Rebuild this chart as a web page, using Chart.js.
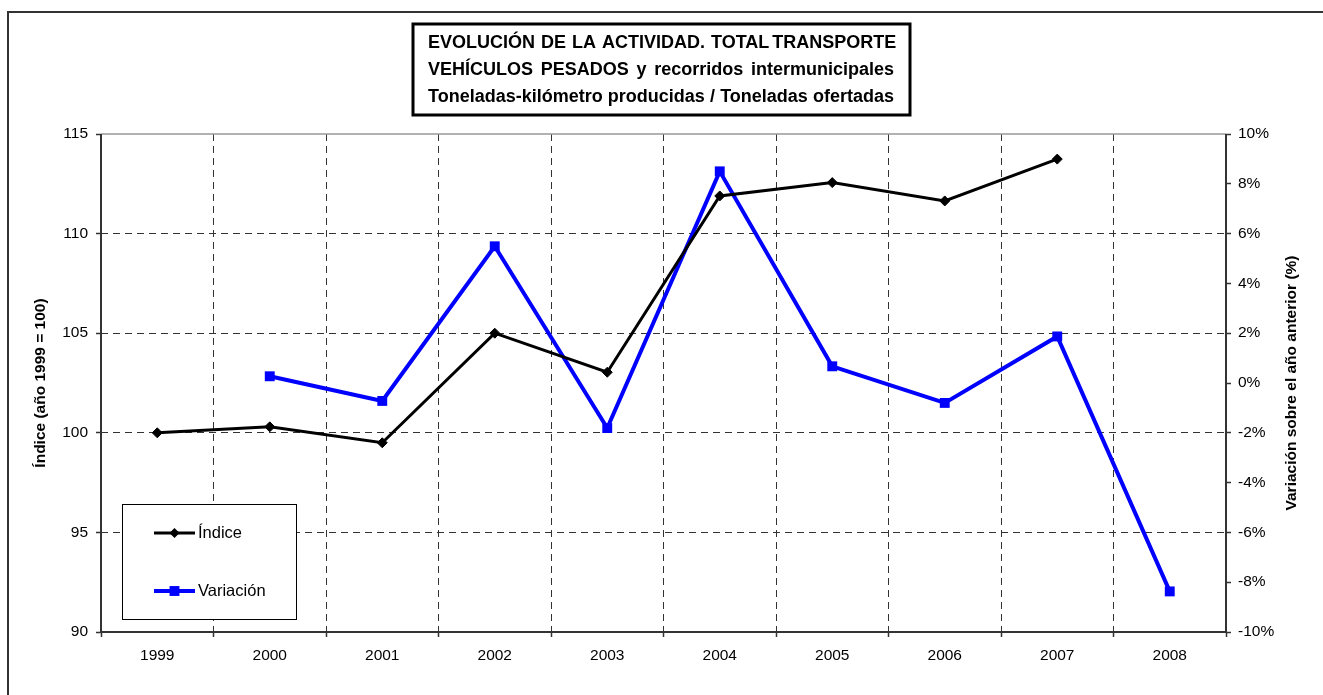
<!DOCTYPE html>
<html>
<head>
<meta charset="utf-8">
<script src="https://cdn.jsdelivr.net/npm/chart.js@4.4.1/dist/chart.umd.min.js"></script>
<style>
  html, body { margin: 0; padding: 0; background: #fff; }
  #wrap { width: 1323px; height: 695px; }
</style>
</head>
<body>
<div id="wrap"><canvas id="chart" width="1323" height="695"></canvas></div>
<script>
// data
const years = ['1999', '2000', '2001', '2002', '2003', '2004', '2005', '2006', '2007', '2008'];
const indice = [100, 100.3, 99.5, 105.0, 103.04, 111.89, 112.56, 111.64, 113.74, null];
const variacion = [null, 0.27, -0.72, 5.49, -1.81, 8.5, 0.67, -0.8, 1.87, -8.37];
const leftTicks = [90, 95, 100, 105, 110, 115];
const rightTicks = [-10, -8, -6, -4, -2, 0, 2, 4, 6, 8, 10];

const titleLines = [
  'EVOLUCIÓN  DE  LA  ACTIVIDAD.  TOTAL TRANSPORTE',
  'VEHÍCULOS  PESADOS  y  recorridos  intermunicipales',
  'Toneladas-kilómetro producidas / Toneladas ofertadas'
];
const leftTitle = 'Índice (año 1999 = 100)';
const rightTitle = 'Variación sobre el año anterior (%)';

const FONT = '"Liberation Sans", Arial, sans-serif';
const DARK = '#333';

// frame, titles and legend like the Excel original
const decor = {
  id: 'decor',
  beforeDatasetsDraw(chart) {
    const ctx = chart.ctx;
    const a = chart.chartArea;
    ctx.save();
    // outer chart border (only top and left show in the picture)
    ctx.strokeStyle = DARK;
    ctx.lineWidth = 2;
    ctx.beginPath();
    ctx.moveTo(8, 700); ctx.lineTo(8, 12); ctx.lineTo(1330, 12);
    ctx.stroke();
    // plot area frame
    ctx.strokeStyle = '#999';
    ctx.lineWidth = 1.5;
    ctx.beginPath();
    ctx.moveTo(a.left, a.top); ctx.lineTo(a.right, a.top);
    ctx.stroke();
    ctx.strokeStyle = DARK;
    ctx.lineWidth = 2;
    ctx.beginPath();
    ctx.moveTo(a.left, a.top); ctx.lineTo(a.left, a.bottom);
    ctx.lineTo(a.right, a.bottom); ctx.lineTo(a.right, a.top);
    ctx.stroke();
    ctx.restore();
  },
  afterDraw(chart) {
    const ctx = chart.ctx;
    const a = chart.chartArea;
    ctx.save();

    // title box
    ctx.fillStyle = '#fff';
    ctx.fillRect(413, 24, 497, 91);
    ctx.strokeStyle = '#000';
    ctx.lineWidth = 3;
    ctx.strokeRect(413, 24, 497, 91);
    ctx.fillStyle = '#000';
    ctx.font = 'bold 18px ' + FONT;
    ctx.textBaseline = 'middle';
    ctx.textAlign = 'left';
    const W = 466, x0 = 661 - W / 2;
    titleLines.forEach((line, i) => {
      const words = line.split(' ');
      const widths = words.map(w => ctx.measureText(w).width);
      const total = widths.reduce((s, v) => s + v, 0);
      const gap = Math.max(3, (W - total) / (words.length - 1));
      let x = x0;
      const y = 43 + i * 27;
      words.forEach((w, j) => {
        if (w) ctx.fillText(w, x, y);
        x += widths[j] + gap;
      });
    });

    // axis titles, both read bottom to top
    ctx.font = 'bold 15.5px ' + FONT;
    ctx.textAlign = 'center';
    const midY = (a.top + a.bottom) / 2;
    [[41, leftTitle], [1292, rightTitle]].forEach(([x, t]) => {
      ctx.save();
      ctx.translate(x, midY);
      ctx.rotate(-Math.PI / 2);
      ctx.fillText(t, 0, 0);
      ctx.restore();
    });

    // legend
    ctx.fillStyle = '#fff';
    ctx.fillRect(122.5, 504.5, 174, 115);
    ctx.strokeStyle = '#000';
    ctx.lineWidth = 1;
    ctx.strokeRect(122.5, 504.5, 174, 115);
    const ds = chart.data.datasets;
    const rows = [533, 591];
    ds.forEach((d, i) => {
      const y = rows[i];
      ctx.strokeStyle = d.borderColor;
      ctx.lineWidth = d.borderWidth;
      ctx.beginPath();
      ctx.moveTo(154, y); ctx.lineTo(195, y);
      ctx.stroke();
      ctx.fillStyle = d.borderColor;
      ctx.beginPath();
      if (d.pointStyle === 'rectRot') {
        const r = d.pointRadius;
        ctx.moveTo(174.5, y - r); ctx.lineTo(174.5 + r, y);
        ctx.lineTo(174.5, y + r); ctx.lineTo(174.5 - r, y);
        ctx.closePath();
      } else {
        const s = d.pointRadius * Math.SQRT1_2;
        ctx.rect(174.5 - s, y - s, 2 * s, 2 * s);
      }
      ctx.fill();
      ctx.fillStyle = '#000';
      ctx.font = '16.5px ' + FONT;
      ctx.textAlign = 'left';
      ctx.fillText(d.label, 198, y);
    });
    ctx.restore();
  }
};

const tickFont = { family: FONT, size: 15.5 };

new Chart(document.getElementById('chart'), {
  type: 'line',
  data: {
    labels: years,
    datasets: [{
      label: 'Índice',
      data: indice,
      yAxisID: 'y',
      borderColor: '#000',
      backgroundColor: '#000',
      borderWidth: 3,
      pointStyle: 'rectRot',
      pointRadius: 5,
      pointBorderWidth: 1,
      pointBackgroundColor: '#000',
      tension: 0
    }, {
      label: 'Variación',
      data: variacion,
      yAxisID: 'y1',
      borderColor: '#0000ff',
      backgroundColor: '#0000ff',
      borderWidth: 4,
      pointStyle: 'rect',
      pointRadius: 7,
      pointBorderWidth: 0,
      pointBackgroundColor: '#0000ff',
      tension: 0
    }]
  },
  options: {
    responsive: false,
    animation: false,
    events: [],
    layout: { padding: { top: 134, left: 0, right: 0, bottom: 0 } },
    plugins: { legend: { display: false }, tooltip: { enabled: false }, title: { display: false } },
    scales: {
      x: {
        offset: true,
        grid: {
          offset: true,
          color: DARK,
          lineWidth: 1,
          tickLength: 5,
          tickColor: DARK,
          tickWidth: 1.5,
          tickBorderDash: []
        },
        border: { display: false, dash: [7, 5] },
        ticks: { color: '#000', font: tickFont, padding: 9, maxRotation: 0, autoSkip: false },
        afterFit(s) { s.height = 63; }
      },
      y: {
        position: 'left',
        min: 90,
        max: 115,
        afterBuildTicks(s) { s.ticks = leftTicks.map(v => ({ value: v })); },
        grid: {
          color: c => (c.tick && c.tick.value === 115) ? 'rgba(0,0,0,0)' : DARK,
          lineWidth: 1,
          tickLength: 5,
          tickColor: DARK,
          tickWidth: 1.5,
          tickBorderDash: []
        },
        border: { display: false, dash: [7, 5] },
        ticks: { color: '#000', font: tickFont, padding: 8 },
        afterFit(s) { s.width = 101; }
      },
      y1: {
        position: 'right',
        min: -10,
        max: 10,
        afterBuildTicks(s) { s.ticks = rightTicks.map(v => ({ value: v })); },
        grid: {
          drawOnChartArea: false,
          tickLength: 5,
          tickColor: DARK,
          tickWidth: 1.5,
          tickBorderDash: []
        },
        border: { display: false },
        ticks: { color: '#000', font: tickFont, padding: 7, callback: v => v + '%' },
        afterFit(s) { s.width = 97; }
      }
    }
  },
  plugins: [decor]
});
</script>
</body>
</html>
